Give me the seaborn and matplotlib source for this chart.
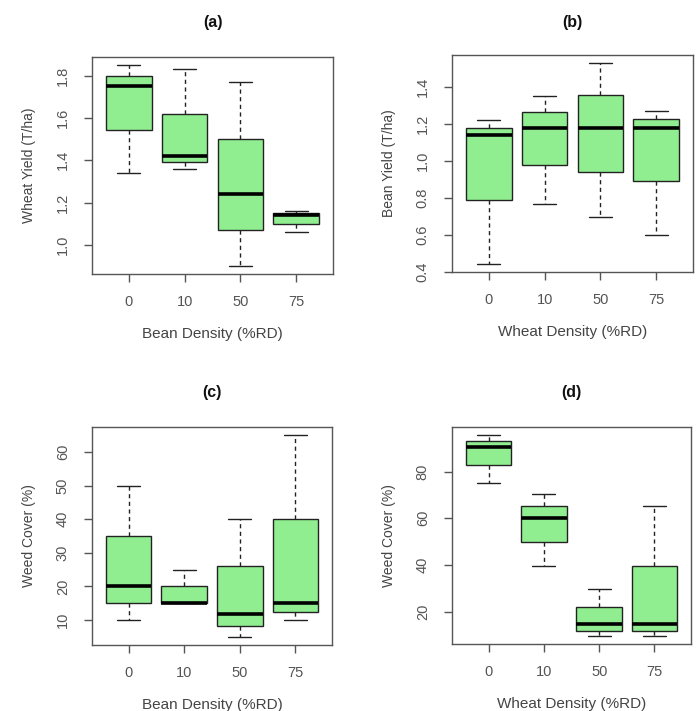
import numpy as np
import pandas as pd
import matplotlib
matplotlib.use("Agg")
import matplotlib.pyplot as plt
import seaborn as sns

sns.set_style("ticks")
plt.rcParams['font.family'] = ['Liberation Sans', 'DejaVu Sans']

# ---- data: five-number summaries ----
densities = ["0", "10", "50", "75"]

a_low  = [1.34, 1.36, 0.90, 1.06]
a_q1   = [1.545, 1.39, 1.07, 1.10]
a_med  = [1.75, 1.42, 1.24, 1.14]
a_q3   = [1.80, 1.62, 1.50, 1.15]
a_high = [1.85, 1.83, 1.77, 1.16]

b_low  = [0.445, 0.77, 0.70, 0.60]
b_q1   = [0.79, 0.98, 0.94, 0.89]
b_med  = [1.14, 1.18, 1.18, 1.18]
b_q3   = [1.18, 1.265, 1.355, 1.23]
b_high = [1.22, 1.35, 1.53, 1.27]

c_low  = [10, 15, 5, 10]
c_q1   = [15, 15, 8.2, 12.3]
c_med  = [20, 15, 11.8, 15]
c_q3   = [35, 20, 26, 40]
c_high = [50, 25, 40, 65]

d_low  = [75.3, 39.7, 9.7, 9.7]
d_q1   = [82.7, 50, 12, 12]
d_med  = [90.3, 60, 14.7, 14.7]
d_q3   = [93, 65.3, 22.1, 39.7]
d_high = [95.6, 70.3, 29.7, 65.3]

titles = ["(a)", "(b)", "(c)", "(d)"]
xlabels = ["Bean Density (%RD)", "Wheat Density (%RD)", "Bean Density (%RD)", "Wheat Density (%RD)"]
ylabels = ["Wheat Yield (T/ha)", "Bean Yield (T/ha)", "Weed Cover (%)", "Weed Cover (%)"]
yticks = [[1.0, 1.2, 1.4, 1.6, 1.8],
          [0.4, 0.6, 0.8, 1.0, 1.2, 1.4],
          [10, 20, 30, 40, 50, 60],
          [20, 40, 60, 80]]
ytick_labels = [["1.0", "1.2", "1.4", "1.6", "1.8"],
                ["0.4", "0.6", "0.8", "1.0", "1.2", "1.4"],
                ["10", "20", "30", "40", "50", "60"],
                ["20", "40", "60", "80"]]

panels = [
    (a_low, a_q1, a_med, a_q3, a_high),
    (b_low, b_q1, b_med, b_q3, b_high),
    (c_low, c_q1, c_med, c_q3, c_high),
    (d_low, d_q1, d_med, d_q3, d_high),
]

def make_df(summ):
    rows = []
    for i, d in enumerate(densities):
        for arr in summ:
            rows.append({"density": d, "value": arr[i]})
    return pd.DataFrame(rows)

W, H = 699, 711
fig = plt.figure(figsize=(W / 100, H / 100), dpi=100)
# frame boxes in pixels: left, right, top, bottom
frames = [(92, 333, 57, 274), (452, 693, 55, 272), (92, 332, 427, 645), (452, 691, 427, 644)]
title_y = [22, 22, 392, 392]

tick_col = "#555555"
lab_col = "#444444"
spine_col = "#555555"
fs = 10.5

for k, (l, r, t, b) in enumerate(frames):
    ax = fig.add_axes([l / W, 1 - b / H, (r - l) / W, (b - t) / H])
    df = make_df(panels[k])
    sns.boxplot(data=df, x="density", y="value", order=densities, ax=ax,
                color="#90EE90", saturation=1, linecolor="#222222", linewidth=1.0,
                width=0.82, whis=(0, 100), fliersize=0,
                medianprops={"linewidth": 2.6, "color": "black"},
                whiskerprops={"linestyle": (0, (3, 2.5)), "linewidth": 1.0},
                capprops={"linewidth": 1.0})
    lo = min(panels[k][0]); hi = max(panels[k][4])
    rng = hi - lo
    ax.set_ylim(lo - 0.04 * rng, hi + 0.04 * rng)
    ax.set_xlim(-0.66, 3.66)
    ax.set_yticks(yticks[k])
    ax.set_yticklabels(ytick_labels[k], rotation=90, va="center")
    ax.set_xticks(range(4))
    ax.set_xticklabels(densities)
    ax.tick_params(axis="both", colors=tick_col, labelcolor=tick_col, labelsize=fs,
                   length=6, width=1, direction="out")
    ax.tick_params(axis="y", pad=10)
    ax.tick_params(axis="x", pad=9)
    for s in ax.spines.values():
        s.set_visible(True)
        s.set_color(spine_col)
        s.set_linewidth(1.0)
    ax.set_xlabel(xlabels[k], fontsize=fs + 0.5, color=lab_col)
    ax.set_ylabel(ylabels[k], fontsize=fs - 0.5, color=lab_col)
    hgt = b - t
    wid = r - l
    ax.xaxis.set_label_coords(0.5, -53 / hgt)
    ax.yaxis.set_label_coords(-56 / wid, 0.5)
    fig.text((l + r) / 2 / W, 1 - title_y[k] / H, titles[k], ha="center", va="center",
             fontsize=fs + 1, fontweight="bold", color="#111111")
    ax.grid(False)

fig.savefig("out.png", dpi=100)
